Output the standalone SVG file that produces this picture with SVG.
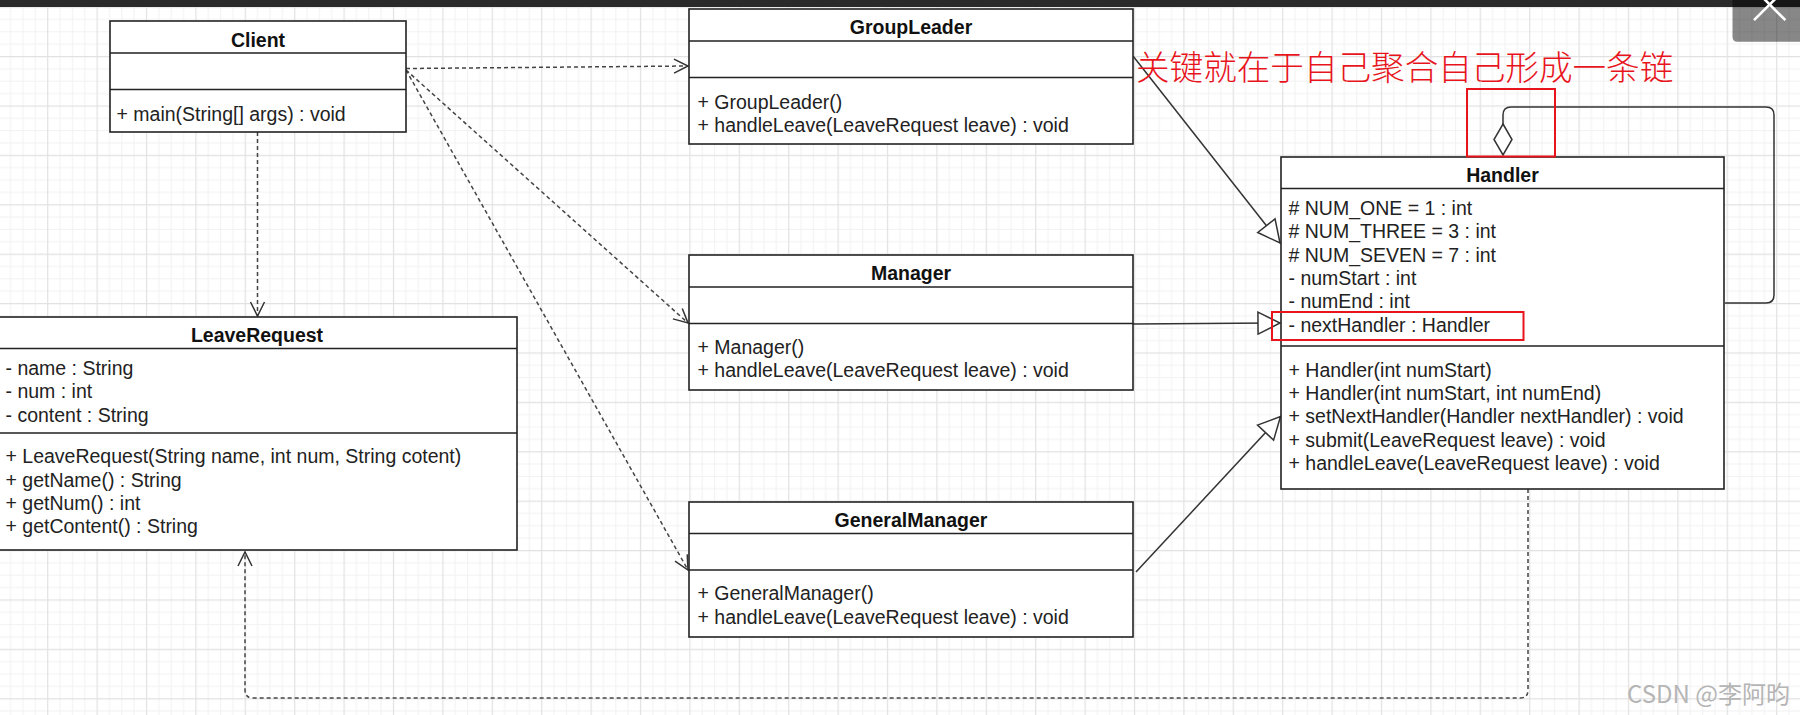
<svg xmlns="http://www.w3.org/2000/svg" width="1800" height="715" viewBox="0 0 1800 715">
<style>
.t{font-family:"Liberation Sans",Arial,sans-serif;font-size:19.5px;fill:#222}
.h{font-family:"Liberation Sans",Arial,sans-serif;font-size:19.5px;font-weight:bold;fill:#111;text-anchor:middle}
.box{fill:#fff;stroke:#222;stroke-width:1.6}
.sep{stroke:#222;stroke-width:1.6;fill:none}
.dash{fill:none;stroke:#444;stroke-width:1.5;stroke-dasharray:4 3}
.solid{fill:none;stroke:#333;stroke-width:1.5}
.red{fill:none;stroke:#e8141c;stroke-width:2}
</style>
<defs>
<pattern id="grid" patternUnits="userSpaceOnUse" x="-2.3" y="6.6" width="49.4" height="49.4">
<rect width="49.4" height="49.4" fill="#fff"/>
<path d="M12.95 0V49.4M25.3 0V49.4M37.65 0V49.4M0 12.95H49.4M0 25.3H49.4M0 37.65H49.4" stroke="#f2f2f2" stroke-width="1"/>
<path d="M0.6 0V49.4M0 0.6H49.4" stroke="#e2e2e2" stroke-width="1.2"/>
</pattern>
<marker id="open" markerUnits="userSpaceOnUse" markerWidth="18" markerHeight="18" viewBox="0 0 18 18" refX="16" refY="9" orient="auto">
<path d="M2 2L16 9L2 16" fill="none" stroke="#333" stroke-width="1.5"/>
</marker>
<marker id="tri" markerUnits="userSpaceOnUse" markerWidth="26" markerHeight="26" viewBox="0 0 26 26" refX="24" refY="13" orient="auto">
<path d="M2 2L24 13L2 24Z" fill="#fff" stroke="#333" stroke-width="1.5"/>
</marker>
</defs>
<rect width="1800" height="715" fill="url(#grid)"/>

<g id="connectors">
<path class="dash" d="M406 68.5L688 66" marker-end="url(#open)"/>
<path class="dash" d="M406 70L688 323" marker-end="url(#open)"/>
<path class="dash" d="M406 70L688 570" marker-end="url(#open)"/>
<path class="dash" d="M257.5 132L257.5 316" marker-end="url(#open)"/>
<path class="dash" d="M1528 489L1528 690Q1528 698 1520 698L253 698Q245 698 245 690L245 552" marker-end="url(#open)"/>
<path class="solid" d="M1133 56L1280 243" marker-end="url(#tri)"/>
<path class="solid" d="M1133 324L1280 323" marker-end="url(#tri)"/>
<path class="solid" d="M1136 572L1280.5 416.5" marker-end="url(#tri)"/>
<path class="solid" d="M1725 303L1766 303Q1774 303 1774 295L1774 115Q1774 107 1766 107L1511 107Q1503 107 1503 115L1503 124"/>
<polygon points="1503,124 1512,139.5 1503,155 1494,139.5" fill="#fff" stroke="#333" stroke-width="1.5"/>
</g>

<g id="Client">
<rect class="box" x="110" y="21" width="296" height="111"/>
<path class="sep" d="M110 53H406M110 89.5H406"/>
<text class="h" x="258" y="46.5">Client</text>
<text class="t" x="116.5" y="120.5">+ main(String[] args) : void</text>
</g>

<g id="GroupLeader">
<rect class="box" x="689" y="9" width="444" height="135"/>
<path class="sep" d="M689 41H1133M689 77.5H1133"/>
<text class="h" x="911" y="34">GroupLeader</text>
<text class="t" x="697.5" y="108.5">+ GroupLeader()</text>
<text class="t" x="697.5" y="132">+ handleLeave(LeaveRequest leave) : void</text>
</g>

<g id="Manager">
<rect class="box" x="689" y="255" width="444" height="135"/>
<path class="sep" d="M689 287H1133M689 323.5H1133"/>
<text class="h" x="911" y="280">Manager</text>
<text class="t" x="697.5" y="353.5">+ Manager()</text>
<text class="t" x="697.5" y="377">+ handleLeave(LeaveRequest leave) : void</text>
</g>

<g id="GeneralManager">
<rect class="box" x="689" y="502" width="444" height="135"/>
<path class="sep" d="M689 533.5H1133M689 570H1133"/>
<text class="h" x="911" y="527">GeneralManager</text>
<text class="t" x="697.5" y="600">+ GeneralManager()</text>
<text class="t" x="697.5" y="623.5">+ handleLeave(LeaveRequest leave) : void</text>
</g>

<g id="LeaveRequest">
<rect class="box" x="-3" y="317" width="520" height="233"/>
<path class="sep" d="M-3 348.5H517M-3 433H517"/>
<text class="h" x="257" y="341.5">LeaveRequest</text>
<text class="t" x="5.5" y="375">- name : String</text>
<text class="t" x="5.5" y="398.3">- num : int</text>
<text class="t" x="5.5" y="421.7">- content : String</text>
<text class="t" x="5.5" y="463.3">+ LeaveRequest(String name, int num, String cotent)</text>
<text class="t" x="5.5" y="486.7">+ getName() : String</text>
<text class="t" x="5.5" y="510">+ getNum() : int</text>
<text class="t" x="5.5" y="533.3">+ getContent() : String</text>
</g>

<g id="Handler">
<rect class="box" x="1281" y="157" width="443" height="332"/>
<path class="sep" d="M1281 188.5H1724M1281 346H1724"/>
<text class="h" x="1502.5" y="181.5">Handler</text>
<text class="t" x="1288.5" y="215"># NUM_ONE = 1 : int</text>
<text class="t" x="1288.5" y="238.3"># NUM_THREE = 3 : int</text>
<text class="t" x="1288.5" y="261.7"># NUM_SEVEN = 7 : int</text>
<text class="t" x="1288.5" y="285">- numStart : int</text>
<text class="t" x="1288.5" y="308.3">- numEnd : int</text>
<text class="t" x="1288.5" y="331.7">- nextHandler : Handler</text>
<text class="t" x="1288.5" y="376.7">+ Handler(int numStart)</text>
<text class="t" x="1288.5" y="400">+ Handler(int numStart, int numEnd)</text>
<text class="t" x="1288.5" y="423.3">+ setNextHandler(Handler nextHandler) : void</text>
<text class="t" x="1288.5" y="446.7">+ submit(LeaveRequest leave) : void</text>
<text class="t" x="1288.5" y="470">+ handleLeave(LeaveRequest leave) : void</text>
</g>

<g id="annotations">
<rect class="red" x="1272" y="312" width="251.5" height="28"/>
<rect class="red" x="1467" y="89" width="88" height="67.5"/>
<text x="1136" y="80" font-family="'Noto Sans CJK SC',sans-serif" font-weight="300" font-size="33.6" fill="#e8141c">关键就在于自己聚合自己形成一条链</text>
</g>

<g id="chrome">
<rect x="0" y="0" width="1800" height="7" fill="#2a2a2a"/>
<path d="M1732.5 0H1800V41.7H1737.5Q1732.5 41.7 1732.5 36.7Z" fill="#000" fill-opacity="0.47"/>
<path d="M1754 20.2L1785.4 -11.2M1785.4 20.2L1754 -11.2" stroke="#fff" stroke-width="2.6"/>
<text x="1627" y="703" font-family="'Noto Sans CJK SC',sans-serif" font-size="24" fill="#b5b5b5" textLength="163" lengthAdjust="spacingAndGlyphs">CSDN @李阿昀</text>
</g>
</svg>
